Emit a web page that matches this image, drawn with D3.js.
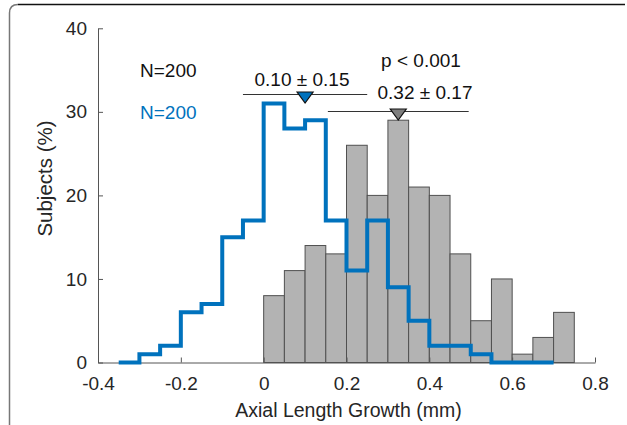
<!DOCTYPE html>
<html>
<head>
<meta charset="utf-8">
<script src="https://cdn.jsdelivr.net/npm/d3@7"></script>
<style>
  body { margin: 0; background: #fff; }
  svg { display: block; font-family: "Liberation Sans", Arial, Helvetica, sans-serif; }
  .tick text { font-size: 19px; fill: #262626; }
  .axis path, .axis line { stroke: #555; }
</style>
</head>
<body>
<svg id="chart" width="627" height="425"></svg>
<script>
// histogram data (percent of subjects per 0.05 mm bin)
const binWidth = 0.05;
const grayStart = 0;
const grayCounts = [8, 11, 14, 13, 26, 20, 29, 21, 20, 13, 5, 10, 1, 3, 6];
const blueStart = -0.35;
const blueCounts = [0, 1, 2, 6, 7, 15, 17, 31, 28, 29, 17, 11, 17, 9, 5, 2, 2, 1, 0, 0, 0];

// mean +/- sd markers
const means = [0.10, 0.325];
const sds = [0.15, 0.17];
const meanLabels = ["0.10 \u00b1 0.15", "0.32 \u00b1 0.17"];
const sampleLabels = ["N=200", "N=200"];

const xTicks = [-0.4, -0.2, 0, 0.2, 0.4, 0.6, 0.8];
const yTicks = [0, 10, 20, 30, 40];

const blue = "#0072bd";
const svg = d3.select("#chart");

const x = d3.scaleLinear().domain([-0.4, 0.8]).range([98, 595]);
const y = d3.scaleLinear().domain([0, 40]).range([362.5, 28.3]);

// figure frame
svg.append("path")
  .attr("d", "M9.5,430 L9.5,13 Q9.5,4.5 18,4.5")
  .attr("fill", "none")
  .attr("stroke", "#777")
  .attr("stroke-width", 1.5);
svg.append("line")
  .attr("x1", 18).attr("x2", 625)
  .attr("y1", 4.5).attr("y2", 4.5)
  .attr("stroke", "#111")
  .attr("stroke-width", 1.5);

// gray bars
svg.append("g")
  .selectAll("rect")
  .data(grayCounts)
  .join("rect")
  .attr("x", (d, i) => x(grayStart + i * binWidth))
  .attr("width", (d, i) => x(grayStart + (i + 1) * binWidth) - x(grayStart + i * binWidth))
  .attr("y", d => y(d))
  .attr("height", d => y(0) - y(d))
  .attr("fill", "#b3b3b3")
  .attr("stroke", "#505050")
  .attr("stroke-width", 1);

// axes
const xAxis = svg.append("g")
  .attr("class", "axis")
  .attr("transform", `translate(0,${y(0)})`)
  .call(d3.axisBottom(x).tickValues(xTicks).tickFormat(d => String(d)).tickSizeInner(-5).tickSizeOuter(0).tickPadding(14.5));
xAxis.selectAll("text").attr("font-family", null).attr("font-size", null);

const yAxis = svg.append("g")
  .attr("class", "axis")
  .attr("transform", `translate(${x(-0.4)},0)`)
  .call(d3.axisLeft(y).tickValues(yTicks).tickSizeInner(-5).tickSizeOuter(0).tickPadding(11));
yAxis.selectAll("text").attr("font-family", null).attr("font-size", null);

// blue stairs outline
const stairPts = [[blueStart, 0]];
blueCounts.forEach((c, i) => stairPts.push([blueStart + i * binWidth, c]));
const blueEnd = blueStart + blueCounts.length * binWidth;
stairPts.push([blueEnd, blueCounts[blueCounts.length - 1]]);
stairPts.push([blueEnd, 0]);

svg.append("path")
  .datum(stairPts)
  .attr("fill", "none")
  .attr("stroke", blue)
  .attr("stroke-width", 4)
  .attr("stroke-linejoin", "miter")
  .attr("d", d3.line().x(d => x(d[0])).y(d => y(d[1])).curve(d3.curveStepAfter));

// mean +/- sd lines with markers
const lineY = [94.5, 111.5];
const markFill = [blue, "#7f7f7f"];
means.forEach((m, i) => {
  svg.append("line")
    .attr("x1", x(m - sds[i])).attr("x2", x(m + sds[i]))
    .attr("y1", lineY[i]).attr("y2", lineY[i])
    .attr("stroke", "#333").attr("stroke-width", 1.2);
  const cx = x(m), top = lineY[i] - 2.5;
  svg.append("path")
    .attr("d", `M${cx - 8},${top} L${cx + 8},${top} L${cx},${top + 11} Z`)
    .attr("fill", markFill[i])
    .attr("stroke", "#111")
    .attr("stroke-width", 1.2);
});

const textAt = (tx, ty, str, color, anchor, size) => svg.append("text")
  .attr("x", tx).attr("y", ty)
  .attr("font-size", size || 19)
  .attr("fill", color)
  .attr("text-anchor", anchor)
  .text(str);

textAt(302, 86, meanLabels[0], "#111", "middle");
textAt(425, 98.5, meanLabels[1], "#111", "middle");
textAt(421, 67, "p < 0.001", "#111", "middle");
textAt(140, 77, sampleLabels[0], "#111", "start");
textAt(140, 118.5, sampleLabels[1], blue, "start");

// axis titles
textAt(348.5, 417, "Axial Length Growth (mm)", "#262626", "middle", 19.5);
svg.append("text")
  .attr("transform", "translate(52,178.5) rotate(-90)")
  .attr("font-size", 20.5)
  .attr("fill", "#262626")
  .attr("text-anchor", "middle")
  .text("Subjects (%)");
</script>
</body>
</html>
